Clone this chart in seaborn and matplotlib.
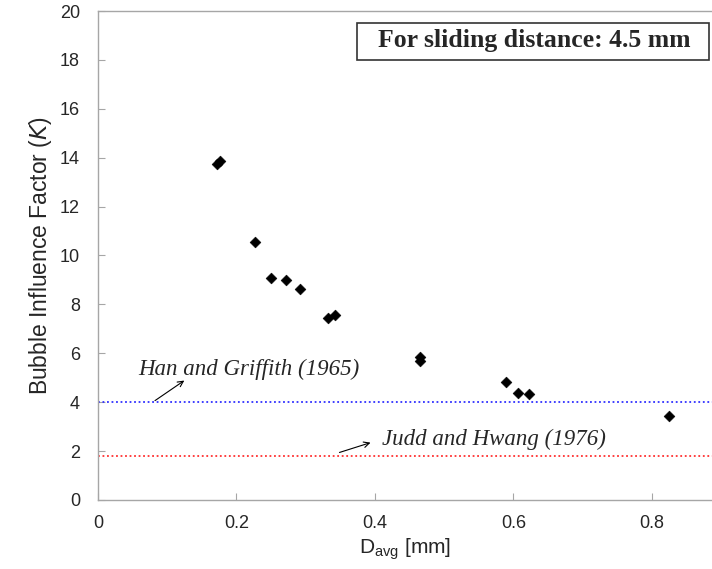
import matplotlib
matplotlib.use('Agg')
import matplotlib.pyplot as plt
import seaborn as sns
import pandas as pd
from matplotlib.patches import Rectangle

# data
d_avg = [0.172, 0.176, 0.227, 0.250, 0.272, 0.292, 0.332, 0.342, 0.465, 0.465, 0.589, 0.607, 0.623, 0.825]
k_val = [13.75, 13.85, 10.55, 9.07, 9.0, 8.65, 7.45, 7.55, 5.85, 5.67, 4.82, 4.38, 4.35, 3.45]
han_griffith = 4.0
judd_hwang = 1.8

df = pd.DataFrame({'d': d_avg, 'k': k_val})

sns.set_style('white')
plt.rcParams['font.family'] = ['Liberation Sans', 'DejaVu Sans']

fig = plt.figure(figsize=(7.12, 5.69), dpi=100)
ax = fig.add_axes([98/712, 69/569, 614/712, 489/569])

sns.scatterplot(data=df, x='d', y='k', marker='D', color='black', s=30, edgecolor='black', ax=ax, zorder=3)

ax.axhline(han_griffith, color='#3030ff', linestyle=(0, (1, 1.5)), linewidth=1.3)
ax.axhline(judd_hwang, color='#ff3030', linestyle=(0, (1, 1.5)), linewidth=1.3)

ax.text(0.058, 5.1, 'Han and Griffith (1965)', fontsize=16.5, style='italic',
        family='Liberation Serif', ha='left', va='baseline')
ax.annotate('', xy=(0.128, 4.95), xytext=(0.079, 4.0),
            arrowprops=dict(arrowstyle='->', color='black', lw=0.8))
ax.text(0.410, 2.24, 'Judd and Hwang (1976)', fontsize=16.5, style='italic',
        family='Liberation Serif', ha='left', va='baseline')
ax.annotate('', xy=(0.3975, 2.38), xytext=(0.345, 1.91),
            arrowprops=dict(arrowstyle='->', color='black', lw=0.8))

# boxed note in the top right corner
ax.add_patch(Rectangle((259/614, 440/489), 352/614, 37/489, transform=ax.transAxes,
                       facecolor='white', edgecolor='#333333', lw=1.2, zorder=4))
ax.text(436/614, 459/489, 'For sliding distance: 4.5 mm', transform=ax.transAxes,
        ha='center', va='center', fontsize=18.5, fontweight='bold', family='Liberation Serif', zorder=5)

ax.set_xlim(0, 0.887)
ax.set_ylim(0, 20)
ax.set_xticks([0, 0.2, 0.4, 0.6, 0.8])
ax.set_xticklabels(['0', '0.2', '0.4', '0.6', '0.8'])
ax.set_yticks(range(0, 21, 2))

for side in ['left', 'top', 'bottom']:
    ax.spines[side].set_color('#a6a6a6')
    ax.spines[side].set_linewidth(1.0)
ax.spines['right'].set_visible(False)

ax.tick_params(axis='y', direction='in', length=5, color='#a6a6a6', labelsize=13, pad=13)
ax.tick_params(axis='x', direction='in', length=5, color='#a6a6a6', labelsize=13, pad=11)
ax.tick_params(left=True, bottom=True)

ax.set_xlabel(r'D$_{\mathregular{avg}}$ [mm]', fontsize=15, labelpad=3)
ax.set_ylabel(r'Bubble Influence Factor ($\mathit{K}$)', fontsize=16.5, labelpad=4)

fig.savefig('out.png', dpi=100)
